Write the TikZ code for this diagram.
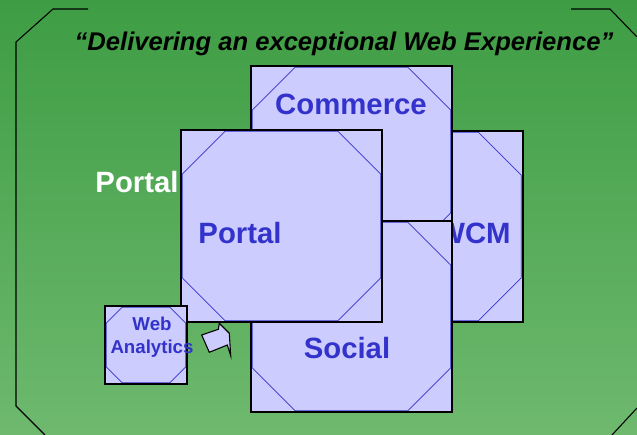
\documentclass[tikz,border=0pt]{standalone}
\usepackage{fontspec}
\setmainfont{Liberation Sans}
\usetikzlibrary{positioning}
\definecolor{bgtop}{RGB}{62,157,68}
\definecolor{bgbottom}{RGB}{110,185,110}
\definecolor{boxfill}{RGB}{204,204,255}
\definecolor{boxblue}{RGB}{51,51,204}

\begin{document}
\begin{tikzpicture}[x=0.75pt, y=-0.75pt,
    cornercut/.store in=\cutlen, cornercut=33pt,
    panel/.style={rectangle, draw=black, line width=1.5pt, fill=boxfill, inner sep=0pt,
      path picture={
        \draw[boxblue, line width=0.6pt]
          ([shift={(\cutlen,-1pt)}]path picture bounding box.north west) -- ([shift={(-\cutlen,-1pt)}]path picture bounding box.north east)
          -- ([shift={(-1pt,-\cutlen)}]path picture bounding box.north east) -- ([shift={(-1pt,\cutlen)}]path picture bounding box.south east)
          -- ([shift={(-\cutlen,1pt)}]path picture bounding box.south east) -- ([shift={(\cutlen,1pt)}]path picture bounding box.south west)
          -- ([shift={(1pt,\cutlen)}]path picture bounding box.south west) -- ([shift={(1pt,-\cutlen)}]path picture bounding box.north west)
          -- cycle;
      }},
    bigpanel/.style={panel, minimum width=150.75pt, minimum height=143.25pt},
    paneltext/.style={text=boxblue, font=\fontsize{22}{26}\selectfont\bfseries},
    outline/.style={black, line width=0.8pt}]
  % Hintergrund
  \useasboundingbox (0,0) rectangle (637,435);
  \shade[top color=bgtop, bottom color=bgbottom] (0,0) rectangle (637,435);
  \draw[outline] (88,9) -- (53,9) -- (16,42) -- (16,406) -- (45,435);
  \draw[outline] (571,9) -- (610,9) -- (637,37);
  \draw[outline] (637,408) -- (612,435);

  % Titel
  \node[anchor=base, font=\fontsize{19.2}{23}\selectfont\bfseries\itshape] (motto) at (344,51)
    {“Delivering an exceptional Web Experience”};
  \node[text=white, font=\fontsize{22}{26}\selectfont\bfseries] (portallabel) at (137,182) {Portal};

  % Bausteine
  \node[bigpanel] (wcm) at (422,226.5) {};
  \node[paneltext] (wcmtext) at (474,233) {WCM};
  \node[bigpanel] (commerce) at (351.5,161.5) {};
  \node[paneltext] (commercetext) at (351,104) {Commerce};
  \node[bigpanel] (social) at (351.5,316.5) {};
  \node[paneltext] (socialtext) at (347,348) {Social};
  \node[bigpanel, minimum height=144pt] (portal) at (281.5,226) {};
  \node[paneltext] (portaltext) at (240,233) {Portal};

  % Web Analytics
  \node[panel, cornercut=12.75pt, minimum width=61.5pt, minimum height=58.5pt] (analytics) at (146,345) {};
  \node[text=boxblue, align=center, font=\fontsize{14}{17.25}\selectfont\bfseries] (analyticstext) at (152,337) {Web\\Analytics};
  \draw[black, line width=0.8pt, fill=boxfill] (201.7,335) -- (218.3,329.3) -- (219.3,323.3) -- (229.3,333.3)
    -- (230.7,355.7) -- (227.3,345) -- (209.3,352.3) -- cycle;
\end{tikzpicture}
\end{document}
